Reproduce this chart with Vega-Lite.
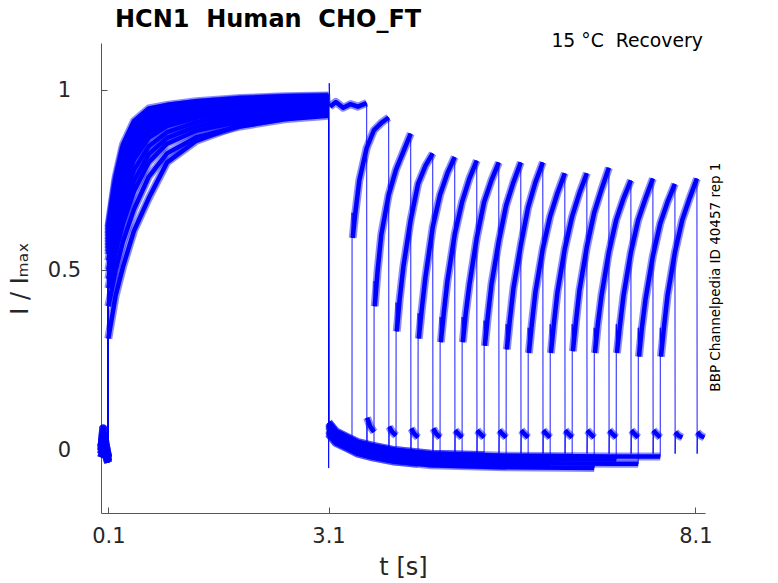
{
  "$schema": "https://vega.github.io/schema/vega-lite/v6.json",
  "width": 604,
  "height": 470,
  "autosize": "none",
  "padding": {"left": 101, "top": 43, "right": 73, "bottom": 70},
  "background": "white",
  "title": {
    "text": "HCN1 \u00a0Human \u00a0CHO_FT",
    "anchor": "start",
    "frame": "group",
    "dx": 14,
    "offset": 0,
    "font": "DejaVu Sans",
    "fontSize": 24,
    "fontWeight": "bold",
    "color": "#000000"
  },
  "data": {
    "values": [
      {"s":1,"g":"a","t":0.005,"y":-0.01},{"s":1,"g":"a","t":0.03,"y":0.02},{"s":1,"g":"a","t":0.06,"y":0},{"s":1,"g":"a","t":0.097,"y":-0.02},
      {"s":1,"g":"b","t":0.1,"y":0.569},{"s":1,"g":"b","t":0.2,"y":0.697},{"s":1,"g":"b","t":0.3,"y":0.784},{"s":1,"g":"b","t":0.45,"y":0.857},{"s":1,"g":"b","t":0.65,"y":0.905},{"s":1,"g":"b","t":0.9,"y":0.926},{"s":1,"g":"b","t":1.3,"y":0.945},{"s":1,"g":"b","t":1.9,"y":0.96},{"s":1,"g":"b","t":2.5,"y":0.968},{"s":1,"g":"b","t":3.1,"y":0.972},
      {"s":1,"g":"j","t":3.102,"y":-0.05},{"s":1,"g":"j","t":3.11,"y":1.02},
      {"s":1,"g":"d","t":3.12,"y":0.955},{"s":1,"g":"d","t":3.2,"y":0.968},{"s":1,"g":"d","t":3.3,"y":0.952},{"s":1,"g":"d","t":3.4,"y":0.962},{"s":1,"g":"d","t":3.5,"y":0.955},{"s":1,"g":"d","t":3.62,"y":0.965},
      {"s":1,"g":"j","t":3.623,"y":-0.01},
      {"s":1,"g":"e","t":3.626,"y":0.09},{"s":1,"g":"e","t":3.67,"y":0.065},{"s":1,"g":"e","t":3.72,"y":0.05},

      {"s":2,"g":"a","t":0.005,"y":0.01},{"s":2,"g":"a","t":0.03,"y":0.04},{"s":2,"g":"a","t":0.06,"y":0.01},{"s":2,"g":"a","t":0.097,"y":-0.03},
      {"s":2,"g":"b","t":0.1,"y":0.62},{"s":2,"g":"b","t":0.2,"y":0.76},{"s":2,"g":"b","t":0.3,"y":0.85},{"s":2,"g":"b","t":0.45,"y":0.915},{"s":2,"g":"b","t":0.65,"y":0.95},{"s":2,"g":"b","t":0.9,"y":0.96},{"s":2,"g":"b","t":1.3,"y":0.97},{"s":2,"g":"b","t":1.9,"y":0.979},{"s":2,"g":"b","t":2.5,"y":0.984},{"s":2,"g":"b","t":3.1,"y":0.986},
      {"s":2,"g":"c","t":3.101,"y":0.065},{"s":2,"g":"c","t":3.2,"y":0.04},{"s":2,"g":"c","t":3.35,"y":0.025},{"s":2,"g":"c","t":3.42,"y":0.018},
      {"s":2,"g":"j","t":3.421,"y":0.66},
      {"s":2,"g":"d","t":3.43,"y":0.59},{"s":2,"g":"d","t":3.46,"y":0.65},{"s":2,"g":"d","t":3.52,"y":0.75},{"s":2,"g":"d","t":3.62,"y":0.84},{"s":2,"g":"d","t":3.72,"y":0.89},{"s":2,"g":"d","t":3.82,"y":0.91},{"s":2,"g":"d","t":3.92,"y":0.925},
      {"s":2,"g":"j","t":3.923,"y":-0.01},
      {"s":2,"g":"e","t":3.926,"y":0.065},{"s":2,"g":"e","t":3.97,"y":0.05},{"s":2,"g":"e","t":4.02,"y":0.04},

      {"s":3,"g":"a","t":0.005,"y":-0.02},{"s":3,"g":"a","t":0.03,"y":0},{"s":3,"g":"a","t":0.06,"y":-0.01},{"s":3,"g":"a","t":0.097,"y":-0.035},
      {"s":3,"g":"b","t":0.1,"y":0.603},{"s":3,"g":"b","t":0.2,"y":0.739},{"s":3,"g":"b","t":0.3,"y":0.828},{"s":3,"g":"b","t":0.45,"y":0.896},{"s":3,"g":"b","t":0.65,"y":0.935},{"s":3,"g":"b","t":0.9,"y":0.949},{"s":3,"g":"b","t":1.3,"y":0.962},{"s":3,"g":"b","t":1.9,"y":0.973},{"s":3,"g":"b","t":2.5,"y":0.979},{"s":3,"g":"b","t":3.1,"y":0.981},
      {"s":3,"g":"c","t":3.101,"y":0.053},{"s":3,"g":"c","t":3.2,"y":0.028},{"s":3,"g":"c","t":3.35,"y":0.013},{"s":3,"g":"c","t":3.5,"y":-0.002},{"s":3,"g":"c","t":3.7,"y":-0.012},{"s":3,"g":"c","t":3.72,"y":-0.013},
      {"s":3,"g":"j","t":3.721,"y":0.47},
      {"s":3,"g":"d","t":3.73,"y":0.4},{"s":3,"g":"d","t":3.77,"y":0.5},{"s":3,"g":"d","t":3.82,"y":0.6},{"s":3,"g":"d","t":3.92,"y":0.71},{"s":3,"g":"d","t":4.02,"y":0.78},{"s":3,"g":"d","t":4.12,"y":0.83},{"s":3,"g":"d","t":4.22,"y":0.88},
      {"s":3,"g":"j","t":4.223,"y":-0.01},
      {"s":3,"g":"e","t":4.226,"y":0.06},{"s":3,"g":"e","t":4.27,"y":0.045},{"s":3,"g":"e","t":4.32,"y":0.035},

      {"s":4,"g":"a","t":0.005,"y":0},{"s":4,"g":"a","t":0.03,"y":0.06},{"s":4,"g":"a","t":0.06,"y":0.02},{"s":4,"g":"a","t":0.097,"y":-0.02},
      {"s":4,"g":"b","t":0.1,"y":0.586},{"s":4,"g":"b","t":0.2,"y":0.718},{"s":4,"g":"b","t":0.3,"y":0.806},{"s":4,"g":"b","t":0.45,"y":0.876},{"s":4,"g":"b","t":0.65,"y":0.92},{"s":4,"g":"b","t":0.9,"y":0.938},{"s":4,"g":"b","t":1.3,"y":0.954},{"s":4,"g":"b","t":1.9,"y":0.966},{"s":4,"g":"b","t":2.5,"y":0.973},{"s":4,"g":"b","t":3.1,"y":0.977},
      {"s":4,"g":"c","t":3.101,"y":0.073},{"s":4,"g":"c","t":3.2,"y":0.048},{"s":4,"g":"c","t":3.35,"y":0.033},{"s":4,"g":"c","t":3.5,"y":0.018},{"s":4,"g":"c","t":3.7,"y":0.008},{"s":4,"g":"c","t":4.0,"y":-0.004},{"s":4,"g":"c","t":4.02,"y":-0.004},
      {"s":4,"g":"j","t":4.021,"y":0.41},
      {"s":4,"g":"d","t":4.03,"y":0.33},{"s":4,"g":"d","t":4.07,"y":0.42},{"s":4,"g":"d","t":4.12,"y":0.51},{"s":4,"g":"d","t":4.22,"y":0.64},{"s":4,"g":"d","t":4.32,"y":0.74},{"s":4,"g":"d","t":4.42,"y":0.79},{"s":4,"g":"d","t":4.52,"y":0.825},
      {"s":4,"g":"j","t":4.523,"y":-0.01},
      {"s":4,"g":"e","t":4.526,"y":0.06},{"s":4,"g":"e","t":4.57,"y":0.045},{"s":4,"g":"e","t":4.62,"y":0.035},

      {"s":5,"g":"a","t":0.005,"y":-0.01},{"s":5,"g":"a","t":0.03,"y":0.02},{"s":5,"g":"a","t":0.06,"y":0},{"s":5,"g":"a","t":0.097,"y":-0.02},
      {"s":5,"g":"b","t":0.1,"y":0.612},{"s":5,"g":"b","t":0.2,"y":0.75},{"s":5,"g":"b","t":0.3,"y":0.839},{"s":5,"g":"b","t":0.45,"y":0.905},{"s":5,"g":"b","t":0.65,"y":0.943},{"s":5,"g":"b","t":0.9,"y":0.955},{"s":5,"g":"b","t":1.3,"y":0.966},{"s":5,"g":"b","t":1.9,"y":0.976},{"s":5,"g":"b","t":2.5,"y":0.981},{"s":5,"g":"b","t":3.1,"y":0.984},
      {"s":5,"g":"c","t":3.101,"y":0.045},{"s":5,"g":"c","t":3.2,"y":0.02},{"s":5,"g":"c","t":3.35,"y":0.005},{"s":5,"g":"c","t":3.5,"y":-0.01},{"s":5,"g":"c","t":3.7,"y":-0.02},{"s":5,"g":"c","t":4.0,"y":-0.032},{"s":5,"g":"c","t":4.32,"y":-0.038},
      {"s":5,"g":"j","t":4.321,"y":0.38},
      {"s":5,"g":"d","t":4.33,"y":0.31},{"s":5,"g":"d","t":4.37,"y":0.39},{"s":5,"g":"d","t":4.42,"y":0.48},{"s":5,"g":"d","t":4.52,"y":0.62},{"s":5,"g":"d","t":4.62,"y":0.71},{"s":5,"g":"d","t":4.72,"y":0.77},{"s":5,"g":"d","t":4.82,"y":0.815},
      {"s":5,"g":"j","t":4.823,"y":-0.01},
      {"s":5,"g":"e","t":4.826,"y":0.055},{"s":5,"g":"e","t":4.87,"y":0.045},{"s":5,"g":"e","t":4.92,"y":0.035},

      {"s":6,"g":"a","t":0.005,"y":0.01},{"s":6,"g":"a","t":0.03,"y":0.04},{"s":6,"g":"a","t":0.06,"y":0.01},{"s":6,"g":"a","t":0.097,"y":-0.03},
      {"s":6,"g":"b","t":0.1,"y":0.595},{"s":6,"g":"b","t":0.2,"y":0.729},{"s":6,"g":"b","t":0.3,"y":0.817},{"s":6,"g":"b","t":0.45,"y":0.886},{"s":6,"g":"b","t":0.65,"y":0.928},{"s":6,"g":"b","t":0.9,"y":0.944},{"s":6,"g":"b","t":1.3,"y":0.958},{"s":6,"g":"b","t":1.9,"y":0.969},{"s":6,"g":"b","t":2.5,"y":0.976},{"s":6,"g":"b","t":3.1,"y":0.979},
      {"s":6,"g":"c","t":3.101,"y":0.069},{"s":6,"g":"c","t":3.2,"y":0.044},{"s":6,"g":"c","t":3.35,"y":0.029},{"s":6,"g":"c","t":3.5,"y":0.014},{"s":6,"g":"c","t":3.7,"y":0.004},{"s":6,"g":"c","t":4.0,"y":-0.008},{"s":6,"g":"c","t":4.5,"y":-0.018},{"s":6,"g":"c","t":4.62,"y":-0.019},
      {"s":6,"g":"j","t":4.621,"y":0.37},
      {"s":6,"g":"d","t":4.63,"y":0.3},{"s":6,"g":"d","t":4.67,"y":0.38},{"s":6,"g":"d","t":4.72,"y":0.47},{"s":6,"g":"d","t":4.82,"y":0.6},{"s":6,"g":"d","t":4.92,"y":0.69},{"s":6,"g":"d","t":5.02,"y":0.755},{"s":6,"g":"d","t":5.12,"y":0.805},
      {"s":6,"g":"j","t":5.123,"y":-0.01},
      {"s":6,"g":"e","t":5.126,"y":0.055},{"s":6,"g":"e","t":5.17,"y":0.045},{"s":6,"g":"e","t":5.22,"y":0.035},

      {"s":7,"g":"a","t":0.005,"y":-0.02},{"s":7,"g":"a","t":0.03,"y":0},{"s":7,"g":"a","t":0.06,"y":-0.01},{"s":7,"g":"a","t":0.097,"y":-0.035},
      {"s":7,"g":"b","t":0.1,"y":0.578},{"s":7,"g":"b","t":0.2,"y":0.708},{"s":7,"g":"b","t":0.3,"y":0.795},{"s":7,"g":"b","t":0.45,"y":0.866},{"s":7,"g":"b","t":0.65,"y":0.913},{"s":7,"g":"b","t":0.9,"y":0.933},{"s":7,"g":"b","t":1.3,"y":0.95},{"s":7,"g":"b","t":1.9,"y":0.963},{"s":7,"g":"b","t":2.5,"y":0.97},{"s":7,"g":"b","t":3.1,"y":0.974},
      {"s":7,"g":"c","t":3.101,"y":0.057},{"s":7,"g":"c","t":3.2,"y":0.032},{"s":7,"g":"c","t":3.35,"y":0.017},{"s":7,"g":"c","t":3.5,"y":0.002},{"s":7,"g":"c","t":3.7,"y":-0.008},{"s":7,"g":"c","t":4.0,"y":-0.02},{"s":7,"g":"c","t":4.5,"y":-0.03},{"s":7,"g":"c","t":4.92,"y":-0.032},
      {"s":7,"g":"j","t":4.921,"y":0.37},
      {"s":7,"g":"d","t":4.93,"y":0.3},{"s":7,"g":"d","t":4.97,"y":0.38},{"s":7,"g":"d","t":5.02,"y":0.46},{"s":7,"g":"d","t":5.12,"y":0.59},{"s":7,"g":"d","t":5.22,"y":0.69},{"s":7,"g":"d","t":5.32,"y":0.75},{"s":7,"g":"d","t":5.42,"y":0.8},
      {"s":7,"g":"j","t":5.423,"y":-0.01},
      {"s":7,"g":"e","t":5.426,"y":0.055},{"s":7,"g":"e","t":5.47,"y":0.045},{"s":7,"g":"e","t":5.52,"y":0.035},

      {"s":8,"g":"a","t":0.005,"y":0},{"s":8,"g":"a","t":0.03,"y":0.06},{"s":8,"g":"a","t":0.06,"y":0.02},{"s":8,"g":"a","t":0.097,"y":-0.02},
      {"s":8,"g":"b","t":0.1,"y":0.561},{"s":8,"g":"b","t":0.2,"y":0.687},{"s":8,"g":"b","t":0.3,"y":0.773},{"s":8,"g":"b","t":0.45,"y":0.847},{"s":8,"g":"b","t":0.65,"y":0.898},{"s":8,"g":"b","t":0.9,"y":0.922},{"s":8,"g":"b","t":1.3,"y":0.941},{"s":8,"g":"b","t":1.9,"y":0.956},{"s":8,"g":"b","t":2.5,"y":0.965},{"s":8,"g":"b","t":3.1,"y":0.97},
      {"s":8,"g":"c","t":3.101,"y":0.077},{"s":8,"g":"c","t":3.2,"y":0.052},{"s":8,"g":"c","t":3.35,"y":0.037},{"s":8,"g":"c","t":3.5,"y":0.022},{"s":8,"g":"c","t":3.7,"y":0.012},{"s":8,"g":"c","t":4.0,"y":0},{"s":8,"g":"c","t":4.5,"y":-0.01},{"s":8,"g":"c","t":5.22,"y":-0.014},
      {"s":8,"g":"j","t":5.221,"y":0.36},
      {"s":8,"g":"d","t":5.23,"y":0.29},{"s":8,"g":"d","t":5.27,"y":0.37},{"s":8,"g":"d","t":5.32,"y":0.46},{"s":8,"g":"d","t":5.42,"y":0.58},{"s":8,"g":"d","t":5.52,"y":0.68},{"s":8,"g":"d","t":5.62,"y":0.745},{"s":8,"g":"d","t":5.72,"y":0.8},
      {"s":8,"g":"j","t":5.723,"y":-0.01},
      {"s":8,"g":"e","t":5.726,"y":0.055},{"s":8,"g":"e","t":5.77,"y":0.045},{"s":8,"g":"e","t":5.82,"y":0.035},

      {"s":9,"g":"a","t":0.005,"y":-0.01},{"s":9,"g":"a","t":0.03,"y":0.02},{"s":9,"g":"a","t":0.06,"y":0},{"s":9,"g":"a","t":0.097,"y":-0.02},
      {"s":9,"g":"b","t":0.1,"y":0.544},{"s":9,"g":"b","t":0.2,"y":0.666},{"s":9,"g":"b","t":0.3,"y":0.751},{"s":9,"g":"b","t":0.45,"y":0.827},{"s":9,"g":"b","t":0.65,"y":0.883},{"s":9,"g":"b","t":0.9,"y":0.911},{"s":9,"g":"b","t":1.3,"y":0.933},{"s":9,"g":"b","t":1.9,"y":0.95},{"s":9,"g":"b","t":2.5,"y":0.959},{"s":9,"g":"b","t":3.1,"y":0.965},
      {"s":9,"g":"c","t":3.101,"y":0.049},{"s":9,"g":"c","t":3.2,"y":0.024},{"s":9,"g":"c","t":3.35,"y":0.009},{"s":9,"g":"c","t":3.5,"y":-0.006},{"s":9,"g":"c","t":3.7,"y":-0.016},{"s":9,"g":"c","t":4.0,"y":-0.028},{"s":9,"g":"c","t":4.5,"y":-0.038},{"s":9,"g":"c","t":5.5,"y":-0.044},{"s":9,"g":"c","t":5.52,"y":-0.044},
      {"s":9,"g":"j","t":5.521,"y":0.35},
      {"s":9,"g":"d","t":5.53,"y":0.28},{"s":9,"g":"d","t":5.57,"y":0.36},{"s":9,"g":"d","t":5.62,"y":0.45},{"s":9,"g":"d","t":5.72,"y":0.57},{"s":9,"g":"d","t":5.82,"y":0.675},{"s":9,"g":"d","t":5.92,"y":0.745},{"s":9,"g":"d","t":6.02,"y":0.8},
      {"s":9,"g":"j","t":6.023,"y":-0.01},
      {"s":9,"g":"e","t":6.026,"y":0.055},{"s":9,"g":"e","t":6.07,"y":0.045},{"s":9,"g":"e","t":6.12,"y":0.035},

      {"s":10,"g":"a","t":0.005,"y":0.01},{"s":10,"g":"a","t":0.03,"y":0.04},{"s":10,"g":"a","t":0.06,"y":0.01},{"s":10,"g":"a","t":0.097,"y":-0.03},
      {"s":10,"g":"b","t":0.1,"y":0.552},{"s":10,"g":"b","t":0.2,"y":0.676},{"s":10,"g":"b","t":0.3,"y":0.762},{"s":10,"g":"b","t":0.45,"y":0.837},{"s":10,"g":"b","t":0.65,"y":0.89},{"s":10,"g":"b","t":0.9,"y":0.917},{"s":10,"g":"b","t":1.3,"y":0.937},{"s":10,"g":"b","t":1.9,"y":0.953},{"s":10,"g":"b","t":2.5,"y":0.962},{"s":10,"g":"b","t":3.1,"y":0.967},
      {"s":10,"g":"c","t":3.101,"y":0.065},{"s":10,"g":"c","t":3.2,"y":0.04},{"s":10,"g":"c","t":3.35,"y":0.025},{"s":10,"g":"c","t":3.5,"y":0.01},{"s":10,"g":"c","t":3.7,"y":0},{"s":10,"g":"c","t":4.0,"y":-0.012},{"s":10,"g":"c","t":4.5,"y":-0.022},{"s":10,"g":"c","t":5.5,"y":-0.028},{"s":10,"g":"c","t":5.82,"y":-0.028},
      {"s":10,"g":"j","t":5.821,"y":0.34},
      {"s":10,"g":"d","t":5.83,"y":0.27},{"s":10,"g":"d","t":5.87,"y":0.35},{"s":10,"g":"d","t":5.92,"y":0.44},{"s":10,"g":"d","t":6.02,"y":0.56},{"s":10,"g":"d","t":6.12,"y":0.65},{"s":10,"g":"d","t":6.22,"y":0.715},{"s":10,"g":"d","t":6.32,"y":0.77},
      {"s":10,"g":"j","t":6.323,"y":-0.01},
      {"s":10,"g":"e","t":6.326,"y":0.055},{"s":10,"g":"e","t":6.37,"y":0.045},{"s":10,"g":"e","t":6.42,"y":0.035},

      {"s":11,"g":"a","t":0.005,"y":-0.02},{"s":11,"g":"a","t":0.03,"y":0},{"s":11,"g":"a","t":0.06,"y":-0.01},{"s":11,"g":"a","t":0.097,"y":-0.035},
      {"s":11,"g":"b","t":0.1,"y":0.527},{"s":11,"g":"b","t":0.2,"y":0.645},{"s":11,"g":"b","t":0.3,"y":0.729},{"s":11,"g":"b","t":0.45,"y":0.808},{"s":11,"g":"b","t":0.65,"y":0.868},{"s":11,"g":"b","t":0.9,"y":0.901},{"s":11,"g":"b","t":1.3,"y":0.924},{"s":11,"g":"b","t":1.9,"y":0.943},{"s":11,"g":"b","t":2.5,"y":0.954},{"s":11,"g":"b","t":3.1,"y":0.96},
      {"s":11,"g":"c","t":3.101,"y":0.053},{"s":11,"g":"c","t":3.2,"y":0.028},{"s":11,"g":"c","t":3.35,"y":0.013},{"s":11,"g":"c","t":3.5,"y":-0.002},{"s":11,"g":"c","t":3.7,"y":-0.012},{"s":11,"g":"c","t":4.0,"y":-0.024},{"s":11,"g":"c","t":4.5,"y":-0.034},{"s":11,"g":"c","t":5.5,"y":-0.04},{"s":11,"g":"c","t":6.12,"y":-0.041},
      {"s":11,"g":"j","t":6.121,"y":0.35},
      {"s":11,"g":"d","t":6.13,"y":0.27},{"s":11,"g":"d","t":6.17,"y":0.35},{"s":11,"g":"d","t":6.22,"y":0.44},{"s":11,"g":"d","t":6.32,"y":0.56},{"s":11,"g":"d","t":6.42,"y":0.65},{"s":11,"g":"d","t":6.52,"y":0.715},{"s":11,"g":"d","t":6.62,"y":0.77},
      {"s":11,"g":"j","t":6.623,"y":-0.01},
      {"s":11,"g":"e","t":6.626,"y":0.055},{"s":11,"g":"e","t":6.67,"y":0.045},{"s":11,"g":"e","t":6.72,"y":0.035},

      {"s":12,"g":"a","t":0.005,"y":0},{"s":12,"g":"a","t":0.03,"y":0.06},{"s":12,"g":"a","t":0.06,"y":0.02},{"s":12,"g":"a","t":0.097,"y":-0.02},
      {"s":12,"g":"b","t":0.1,"y":0.501},{"s":12,"g":"b","t":0.2,"y":0.613},{"s":12,"g":"b","t":0.3,"y":0.696},{"s":12,"g":"b","t":0.45,"y":0.779},{"s":12,"g":"b","t":0.65,"y":0.845},{"s":12,"g":"b","t":0.9,"y":0.884},{"s":12,"g":"b","t":1.3,"y":0.912},{"s":12,"g":"b","t":1.9,"y":0.934},{"s":12,"g":"b","t":2.5,"y":0.946},{"s":12,"g":"b","t":3.1,"y":0.953},
      {"s":12,"g":"c","t":3.101,"y":0.073},{"s":12,"g":"c","t":3.2,"y":0.048},{"s":12,"g":"c","t":3.35,"y":0.033},{"s":12,"g":"c","t":3.5,"y":0.018},{"s":12,"g":"c","t":3.7,"y":0.008},{"s":12,"g":"c","t":4.0,"y":-0.004},{"s":12,"g":"c","t":4.5,"y":-0.014},{"s":12,"g":"c","t":5.5,"y":-0.02},{"s":12,"g":"c","t":6.42,"y":-0.021},
      {"s":12,"g":"j","t":6.421,"y":0.35},
      {"s":12,"g":"d","t":6.43,"y":0.275},{"s":12,"g":"d","t":6.47,"y":0.355},{"s":12,"g":"d","t":6.52,"y":0.445},{"s":12,"g":"d","t":6.62,"y":0.565},{"s":12,"g":"d","t":6.72,"y":0.66},{"s":12,"g":"d","t":6.82,"y":0.725},{"s":12,"g":"d","t":6.92,"y":0.785},
      {"s":12,"g":"j","t":6.923,"y":-0.01},
      {"s":12,"g":"e","t":6.926,"y":0.055},{"s":12,"g":"e","t":6.97,"y":0.045},{"s":12,"g":"e","t":7.02,"y":0.035},

      {"s":13,"g":"a","t":0.005,"y":-0.01},{"s":13,"g":"a","t":0.03,"y":0.02},{"s":13,"g":"a","t":0.06,"y":0},{"s":13,"g":"a","t":0.097,"y":-0.02},
      {"s":13,"g":"b","t":0.1,"y":0.476},{"s":13,"g":"b","t":0.2,"y":0.582},{"s":13,"g":"b","t":0.3,"y":0.663},{"s":13,"g":"b","t":0.45,"y":0.749},{"s":13,"g":"b","t":0.65,"y":0.823},{"s":13,"g":"b","t":0.9,"y":0.868},{"s":13,"g":"b","t":1.3,"y":0.9},{"s":13,"g":"b","t":1.9,"y":0.924},{"s":13,"g":"b","t":2.5,"y":0.937},{"s":13,"g":"b","t":3.1,"y":0.946},
      {"s":13,"g":"c","t":3.101,"y":0.045},{"s":13,"g":"c","t":3.2,"y":0.02},{"s":13,"g":"c","t":3.35,"y":0.005},{"s":13,"g":"c","t":3.5,"y":-0.01},{"s":13,"g":"c","t":3.7,"y":-0.02},{"s":13,"g":"c","t":4.0,"y":-0.032},{"s":13,"g":"c","t":4.5,"y":-0.042},{"s":13,"g":"c","t":5.5,"y":-0.048},{"s":13,"g":"c","t":6.72,"y":-0.05},
      {"s":13,"g":"j","t":6.721,"y":0.34},
      {"s":13,"g":"d","t":6.73,"y":0.27},{"s":13,"g":"d","t":6.77,"y":0.35},{"s":13,"g":"d","t":6.82,"y":0.43},{"s":13,"g":"d","t":6.92,"y":0.55},{"s":13,"g":"d","t":7.02,"y":0.64},{"s":13,"g":"d","t":7.12,"y":0.7},{"s":13,"g":"d","t":7.22,"y":0.75},
      {"s":13,"g":"j","t":7.223,"y":-0.01},
      {"s":13,"g":"e","t":7.226,"y":0.055},{"s":13,"g":"e","t":7.27,"y":0.045},{"s":13,"g":"e","t":7.32,"y":0.035},

      {"s":14,"g":"a","t":0.005,"y":0.01},{"s":14,"g":"a","t":0.03,"y":0.04},{"s":14,"g":"a","t":0.06,"y":0.01},{"s":14,"g":"a","t":0.097,"y":-0.03},
      {"s":14,"g":"b","t":0.1,"y":0.45},{"s":14,"g":"b","t":0.2,"y":0.55},{"s":14,"g":"b","t":0.3,"y":0.63},{"s":14,"g":"b","t":0.45,"y":0.72},{"s":14,"g":"b","t":0.65,"y":0.8},{"s":14,"g":"b","t":0.9,"y":0.852},{"s":14,"g":"b","t":1.3,"y":0.888},{"s":14,"g":"b","t":1.9,"y":0.914},{"s":14,"g":"b","t":2.5,"y":0.929},{"s":14,"g":"b","t":3.1,"y":0.939},
      {"s":14,"g":"c","t":3.101,"y":0.069},{"s":14,"g":"c","t":3.2,"y":0.044},{"s":14,"g":"c","t":3.35,"y":0.029},{"s":14,"g":"c","t":3.5,"y":0.014},{"s":14,"g":"c","t":3.7,"y":0.004},{"s":14,"g":"c","t":4.0,"y":-0.008},{"s":14,"g":"c","t":4.5,"y":-0.018},{"s":14,"g":"c","t":5.5,"y":-0.024},{"s":14,"g":"c","t":7.0,"y":-0.026},{"s":14,"g":"c","t":7.02,"y":-0.026},
      {"s":14,"g":"j","t":7.021,"y":0.35},
      {"s":14,"g":"d","t":7.03,"y":0.27},{"s":14,"g":"d","t":7.07,"y":0.345},{"s":14,"g":"d","t":7.12,"y":0.43},{"s":14,"g":"d","t":7.22,"y":0.55},{"s":14,"g":"d","t":7.32,"y":0.64},{"s":14,"g":"d","t":7.42,"y":0.7},{"s":14,"g":"d","t":7.52,"y":0.755},
      {"s":14,"g":"j","t":7.523,"y":-0.01},
      {"s":14,"g":"e","t":7.526,"y":0.055},{"s":14,"g":"e","t":7.57,"y":0.045},{"s":14,"g":"e","t":7.62,"y":0.035},

      {"s":15,"g":"a","t":0.005,"y":-0.02},{"s":15,"g":"a","t":0.03,"y":0},{"s":15,"g":"a","t":0.06,"y":-0.01},{"s":15,"g":"a","t":0.097,"y":-0.035},
      {"s":15,"g":"b","t":0.1,"y":0.4},{"s":15,"g":"b","t":0.2,"y":0.5},{"s":15,"g":"b","t":0.3,"y":0.58},{"s":15,"g":"b","t":0.45,"y":0.67},{"s":15,"g":"b","t":0.65,"y":0.76},{"s":15,"g":"b","t":0.9,"y":0.825},{"s":15,"g":"b","t":1.3,"y":0.87},{"s":15,"g":"b","t":1.9,"y":0.9},{"s":15,"g":"b","t":2.5,"y":0.92},{"s":15,"g":"b","t":3.1,"y":0.93},
      {"s":15,"g":"c","t":3.101,"y":0.057},{"s":15,"g":"c","t":3.2,"y":0.032},{"s":15,"g":"c","t":3.35,"y":0.017},{"s":15,"g":"c","t":3.5,"y":0.002},{"s":15,"g":"c","t":3.7,"y":-0.008},{"s":15,"g":"c","t":4.0,"y":-0.02},{"s":15,"g":"c","t":4.5,"y":-0.03},{"s":15,"g":"c","t":5.5,"y":-0.036},{"s":15,"g":"c","t":7.0,"y":-0.038},{"s":15,"g":"c","t":7.32,"y":-0.038},
      {"s":15,"g":"j","t":7.321,"y":0.34},
      {"s":15,"g":"d","t":7.33,"y":0.26},{"s":15,"g":"d","t":7.37,"y":0.34},{"s":15,"g":"d","t":7.42,"y":0.42},{"s":15,"g":"d","t":7.52,"y":0.54},{"s":15,"g":"d","t":7.62,"y":0.63},{"s":15,"g":"d","t":7.72,"y":0.69},{"s":15,"g":"d","t":7.82,"y":0.74},
      {"s":15,"g":"j","t":7.823,"y":-0.01},
      {"s":15,"g":"e","t":7.826,"y":0.05},{"s":15,"g":"e","t":7.87,"y":0.04},{"s":15,"g":"e","t":7.92,"y":0.035},

      {"s":16,"g":"a","t":0.005,"y":0},{"s":16,"g":"a","t":0.03,"y":0.06},{"s":16,"g":"a","t":0.06,"y":0.02},{"s":16,"g":"a","t":0.097,"y":-0.02},
      {"s":16,"g":"b","t":0.1,"y":0.31},{"s":16,"g":"b","t":0.2,"y":0.43},{"s":16,"g":"b","t":0.3,"y":0.51},{"s":16,"g":"b","t":0.45,"y":0.61},{"s":16,"g":"b","t":0.65,"y":0.7},{"s":16,"g":"b","t":0.9,"y":0.8},{"s":16,"g":"b","t":1.3,"y":0.86},{"s":16,"g":"b","t":1.9,"y":0.905},{"s":16,"g":"b","t":2.5,"y":0.925},{"s":16,"g":"b","t":3.1,"y":0.94},
      {"s":16,"g":"c","t":3.101,"y":0.077},{"s":16,"g":"c","t":3.2,"y":0.052},{"s":16,"g":"c","t":3.35,"y":0.037},{"s":16,"g":"c","t":3.5,"y":0.022},{"s":16,"g":"c","t":3.7,"y":0.012},{"s":16,"g":"c","t":4.0,"y":0},{"s":16,"g":"c","t":4.5,"y":-0.01},{"s":16,"g":"c","t":5.5,"y":-0.016},{"s":16,"g":"c","t":7.0,"y":-0.018},{"s":16,"g":"c","t":7.62,"y":-0.018},
      {"s":16,"g":"j","t":7.621,"y":0.34},
      {"s":16,"g":"d","t":7.63,"y":0.26},{"s":16,"g":"d","t":7.67,"y":0.34},{"s":16,"g":"d","t":7.72,"y":0.43},{"s":16,"g":"d","t":7.82,"y":0.55},{"s":16,"g":"d","t":7.92,"y":0.64},{"s":16,"g":"d","t":8.02,"y":0.7},{"s":16,"g":"d","t":8.12,"y":0.755},
      {"s":16,"g":"j","t":8.123,"y":-0.01},
      {"s":16,"g":"e","t":8.126,"y":0.05},{"s":16,"g":"e","t":8.17,"y":0.04},{"s":16,"g":"e","t":8.22,"y":0.035}
    ]
  },
  "layer": [
    {
      "mark": {"type": "line", "color": "#0000ff", "strokeWidth": 0.9},
      "encoding": {
        "x": {
          "field": "t",
          "type": "quantitative",
          "scale": {"domain": [0, 8.23], "nice": false, "zero": false},
          "axis": {"values": [0.1, 3.1, 8.1], "format": ".1f", "title": "t [s]", "labelPadding": 18, "titlePadding": 9}
        },
        "y": {
          "field": "y",
          "type": "quantitative",
          "scale": {"domain": [-0.175, 1.132], "nice": false, "zero": false},
          "axis": {"values": [0, 0.5, 1], "format": "~g", "title": "I / I\u2098\u2090\u2093", "labelAlign": "center", "labelBaseline": "middle", "labelPadding": 43, "titlePadding": 15}
        },
        "detail": {"field": "s"}
      }
    },
    {
      "transform": [{"filter": "datum.g != 'j'"}],
      "mark": {"type": "line", "color": "#0000ff", "strokeWidth": 8, "opacity": 0.45, "strokeJoin": "round", "strokeCap": "butt"},
      "encoding": {
        "x": {"field": "t", "type": "quantitative"},
        "y": {"field": "y", "type": "quantitative"},
        "detail": [{"field": "s"}, {"field": "g"}]
      }
    },
    {
      "transform": [{"filter": "datum.g != 'j'"}],
      "mark": {"type": "line", "color": "#0000ff", "strokeWidth": 4.5, "strokeJoin": "round", "strokeCap": "butt"},
      "encoding": {
        "x": {"field": "t", "type": "quantitative"},
        "y": {"field": "y", "type": "quantitative"},
        "detail": [{"field": "s"}, {"field": "g"}]
      }
    },
    {
      "data": {"values": [{"note": "15 \u00b0C \u00a0Recovery"}]},
      "mark": {"type": "text", "align": "right", "baseline": "alphabetic", "font": "DejaVu Sans", "fontSize": 18.8, "color": "#000000"},
      "encoding": {
        "x": {"datum": 8.2, "type": "quantitative"},
        "y": {"datum": 1.12, "type": "quantitative"},
        "text": {"field": "note"}
      }
    },
    {
      "data": {"values": [{"note": "BBP Channelpedia ID 40457 rep 1"}]},
      "mark": {"type": "text", "align": "center", "baseline": "middle", "angle": 270, "font": "DejaVu Sans", "fontSize": 13.5, "color": "#000000"},
      "encoding": {
        "x": {"datum": 8.376, "type": "quantitative"},
        "y": {"datum": 0.481, "type": "quantitative"},
        "text": {"field": "note"}
      }
    }
  ],
  "config": {
    "view": {"stroke": null},
    "axis": {
      "grid": false,
      "domainColor": "#555555",
      "tickColor": "#555555",
      "tickSize": -6,
      "labelColor": "#262626",
      "titleColor": "#262626",
      "labelFont": "DejaVu Sans",
      "titleFont": "DejaVu Sans",
      "labelFontSize": 21,
      "titleFontSize": 24,
      "titleFontWeight": "normal"
    }
  }
}
